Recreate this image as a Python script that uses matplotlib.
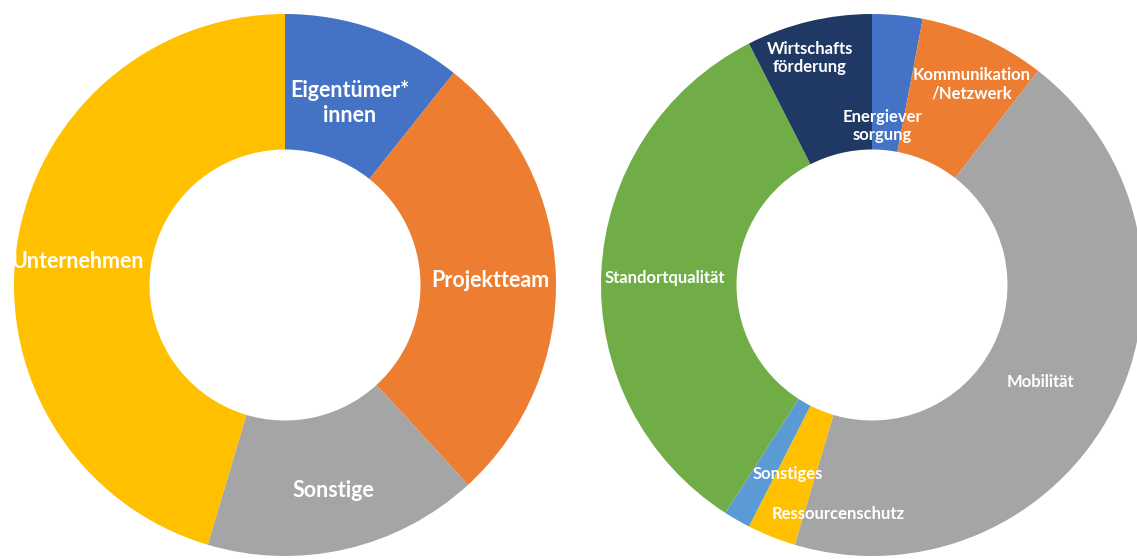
import matplotlib
matplotlib.use("Agg")
import matplotlib.pyplot as plt

# left donut: who took part
left_labels = ["Eigentümer*\ninnen", "Projektteam", "Sonstige", "Unternehmen"]
left_values = [10.7, 27.5, 16.4, 45.4]
left_colors = ["#4472C4", "#ED7D31", "#A5A5A5", "#FFC000"]

# right donut: topics
right_labels = ["Energiever\nsorgung", "Kommunikation\n/Netzwerk", "Mobilität",
                "Ressourcenschutz", "Sonstiges", "Standortqualität",
                "Wirtschafts\nförderung"]
right_values = [3.0, 7.5, 44.1, 2.9, 1.6, 33.4, 7.5]
right_colors = ["#4472C4", "#ED7D31", "#A5A5A5", "#FFC000", "#5B9BD5",
                "#70AD47", "#1F3864"]

# label positions inside each donut (unit radius)
left_pos = [(0.24, 0.672), (0.756, 0.018), (0.177, -0.76), (-0.764, 0.085)]
right_pos = [(0.037, 0.587), (0.369, 0.742), (0.62, -0.358), (-0.125, -0.845),
             (-0.31, -0.697), (-0.764, 0.026), (-0.229, 0.838)]

plt.rcParams["font.family"] = ["Lato", "DejaVu Sans"]

W, H = 1137, 559
fig = plt.figure(figsize=(W / 100, H / 100), dpi=100)


def donut(cx, cy, R, values, colors, labels, pos, size):
    ax = fig.add_axes([(cx - R) / W, (H - cy - R) / H, 2 * R / W, 2 * R / H])
    ax.pie(values, colors=colors, startangle=90, counterclock=False,
           radius=1, wedgeprops=dict(width=0.5, edgecolor="none"))
    ax.set_xlim(-1, 1)
    ax.set_ylim(-1, 1)
    ax.set_aspect("equal")
    ax.axis("off")
    for lab, (x, y) in zip(labels, pos):
        ax.text(x, y, lab, ha="center", va="center", color="white",
                fontsize=size, fontweight="bold", linespacing=1.2)


donut(285, 285, 271, left_values, left_colors, left_labels, left_pos, 15.5)
donut(872, 285, 271, right_values, right_colors, right_labels, right_pos, 12)

fig.savefig("out.png", dpi=100)
